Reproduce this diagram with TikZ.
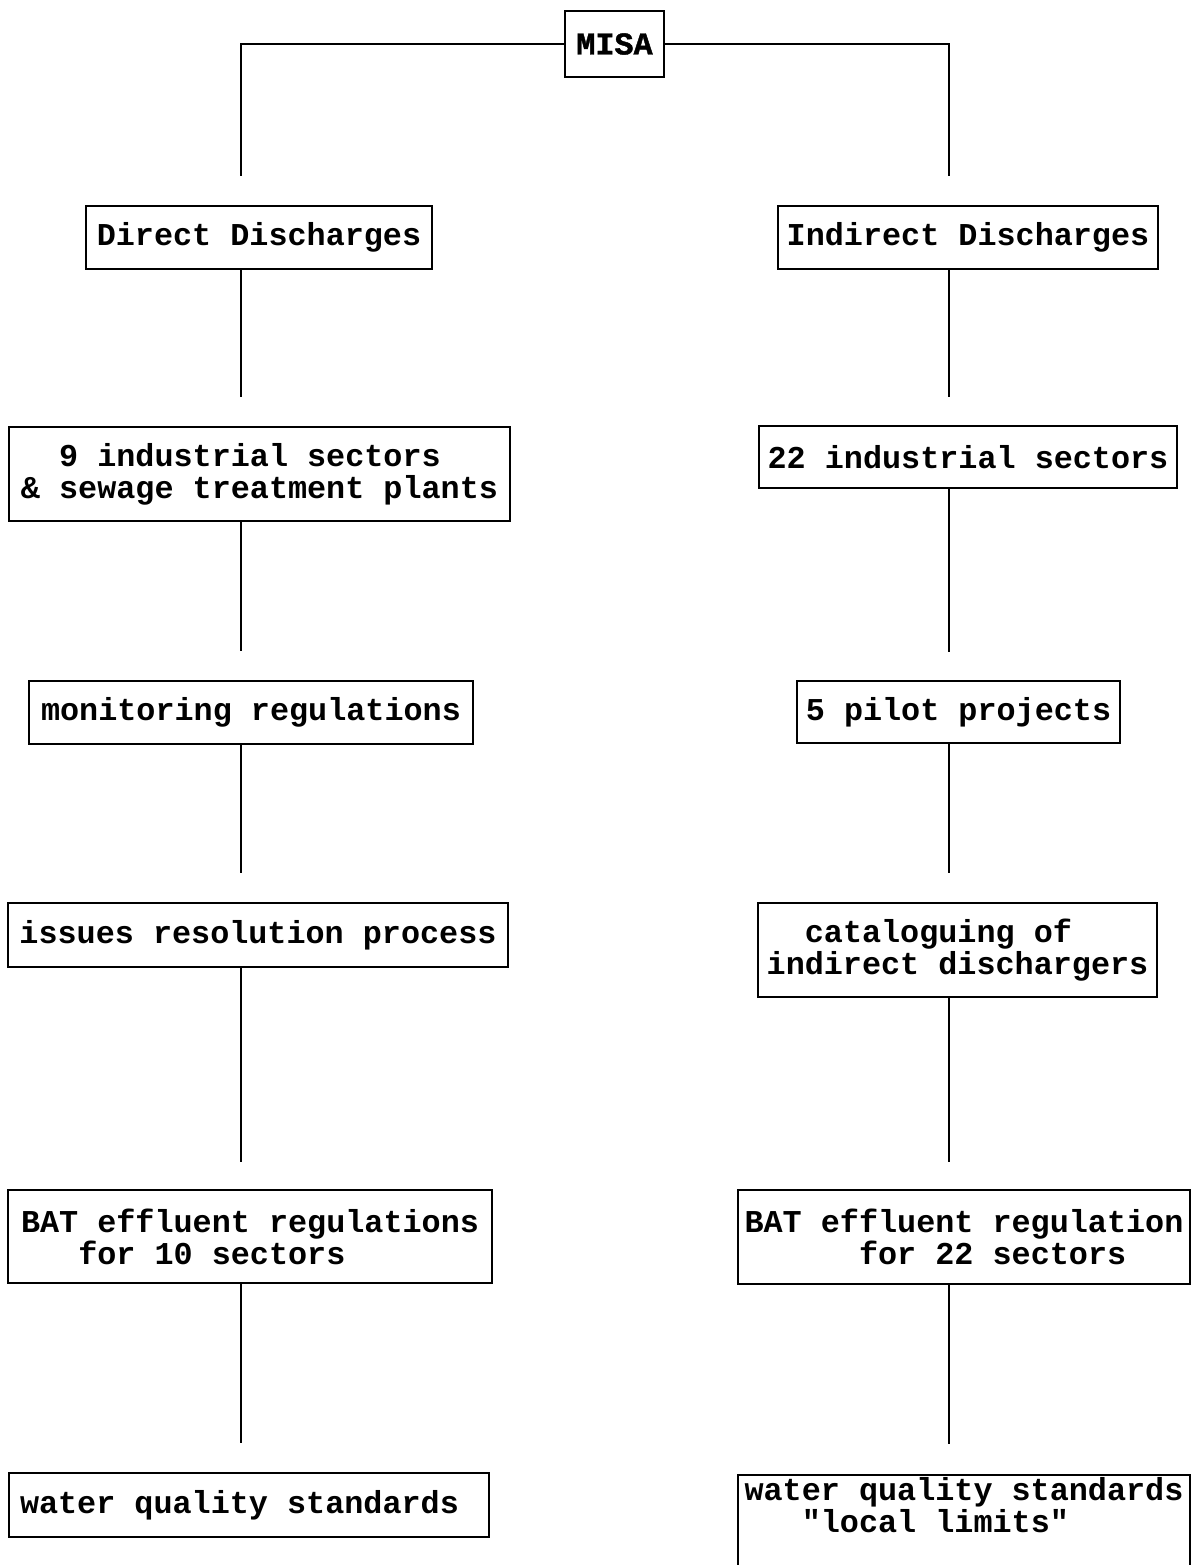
\documentclass[tikz,border=0pt]{standalone}
\usepackage{fontspec}
\setmonofont{Liberation Mono}
\newfontfamily\misafont[FakeBold=1.2]{Liberation Mono}
\begin{document}
\begin{tikzpicture}[x=0.5pt,y=-0.5pt,
  box/.style={draw, line width=1pt, inner sep=0pt, align=center,
    font=\fontsize{15.9}{16}\selectfont\ttfamily\bfseries},
  lbox/.style={box, align=left},
  conn/.style={line width=1pt}]
\useasboundingbox (0,0) rectangle (1195,1565);
% top
\node[box, minimum width=49.5pt, minimum height=33pt,
  font=\fontsize{15.9}{16}\selectfont\misafont\bfseries] (MISA) at (614.5,44) {MISA};
% left column
\node[box, minimum width=173pt, minimum height=31.5pt] (DD) at (259,237.5) {Direct Discharges};
\node[lbox, minimum width=250.5pt, minimum height=47pt] (IS9) at (259.5,474)
  {\phantom{xx}9 industrial sectors\\\& sewage treatment plants};
\node[box, minimum width=222pt, minimum height=31.5pt] (MR) at (251,712.5) {monitoring regulations};
\node[box, minimum width=250pt, minimum height=32pt] (IRP) at (258,935) {issues resolution process};
\node[lbox, minimum width=242pt, minimum height=46.5pt] (BATL) at (250,1236.5)
  {BAT effluent regulations\\\phantom{xxx}for 10 sectors};
\node[box, inner xsep=5.5pt, minimum height=32pt] (WQL) at (249,1505)
  {\makebox[229pt][l]{water quality standards}};
% right column
\node[box, minimum width=190pt, minimum height=31.5pt] (ID) at (968,237.5) {Indirect Discharges};
\node[box, minimum width=209pt, minimum height=31pt] (IS22) at (968,457) {22 industrial sectors};
\node[box, minimum width=161.5pt, minimum height=31pt] (PP) at (958.5,712) {5 pilot projects};
\node[lbox, minimum width=199.5pt, minimum height=47pt] (CAT) at (957.5,950)
  {\phantom{xx}cataloguing of\\indirect dischargers};
\node[lbox, minimum width=226pt, minimum height=47pt] (BATR) at (964,1237)
  {BAT effluent regulation\\\phantom{xxxxxx}for 22 sectors};
\node[lbox, anchor=north, minimum width=226pt] (WQR) at (964,1474)
  {\rule{0pt}{12.5pt}water quality standards\\\phantom{xxx}"local limits"\rule[-40pt]{0pt}{0pt}};
% connector ends
\coordinate (eL0) at (241,176);  \coordinate (eR0) at (949,176);
\coordinate (eL1) at (241,397);  \coordinate (eR1) at (949,397);
\coordinate (eL2) at (241,651);  \coordinate (eR2) at (949,652);
\coordinate (eL3) at (241,873);  \coordinate (eR3) at (949,873);
\coordinate (eL4) at (241,1162); \coordinate (eR4) at (949,1162);
\coordinate (eL5) at (241,1443); \coordinate (eR5) at (949,1444);
% connectors
\draw[conn] (MISA.west) -| (eL0);
\draw[conn] (MISA.east) -| (eR0);
\draw[conn] (eL1 |- DD.south) -- (eL1);
\draw[conn] (eR1 |- ID.south) -- (eR1);
\draw[conn] (eL2 |- IS9.south) -- (eL2);
\draw[conn] (eR2 |- IS22.south) -- (eR2);
\draw[conn] (eL3 |- MR.south) -- (eL3);
\draw[conn] (eR3 |- PP.south) -- (eR3);
\draw[conn] (eL4 |- IRP.south) -- (eL4);
\draw[conn] (eR4 |- CAT.south) -- (eR4);
\draw[conn] (eL5 |- BATL.south) -- (eL5);
\draw[conn] (eR5 |- BATR.south) -- (eR5);
\end{tikzpicture}
\end{document}
